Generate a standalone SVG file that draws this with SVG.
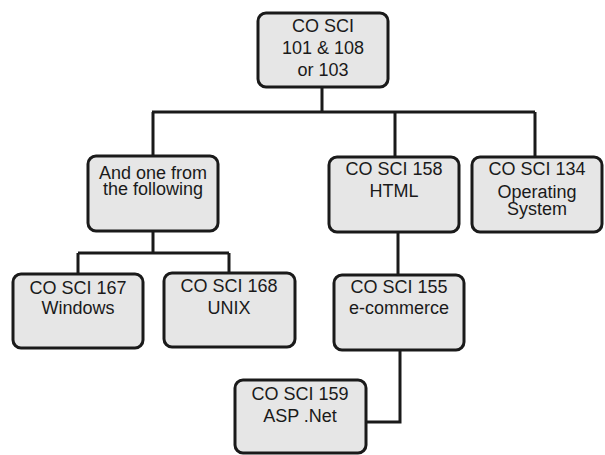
<svg xmlns="http://www.w3.org/2000/svg" width="605" height="455" viewBox="0 0 605 455">
<style>
.box{fill:#e6e6e6;stroke:#1a1a1a;stroke-width:3}
.t{font-family:"Liberation Sans",Arial,sans-serif;font-size:18px;fill:#1a1a1a;text-anchor:middle}
.c{fill:none;stroke:#1a1a1a;stroke-width:3}
</style>
<rect width="605" height="455" fill="#fff"/>
<g id="connectors">
<path class="c" d="M322 87V112M152 112H535M153 112V156M395 112V157M535 112V157"/>
<path class="c" d="M153 231V253M78 253H229M78 253V274M229 253V273"/>
<path class="c" d="M398 232V275"/>
<path class="c" d="M400 350V422H366"/>
</g>
<g id="n_root">
<rect class="box" x="258" y="13" width="130" height="74" rx="8"/>
<text class="t" x="323" y="32">CO SCI<tspan x="323" y="54">101 &amp; 108</tspan><tspan x="323" y="76">or 103</tspan></text>
</g>
<g id="n_andone">
<rect class="box" x="88" y="156" width="130" height="75" rx="8"/>
<text class="t" x="153" y="179">And one from<tspan x="153" y="195">the following</tspan></text>
</g>
<g id="n_158">
<rect class="box" x="329" y="157" width="130" height="75" rx="8"/>
<text class="t" x="394" y="175">CO SCI 158<tspan x="394" y="197">HTML</tspan></text>
</g>
<g id="n_134">
<rect class="box" x="472" y="157" width="130" height="75" rx="8"/>
<text class="t" x="537" y="175">CO SCI 134<tspan x="537" y="198">Operating</tspan><tspan x="537" y="215">System</tspan></text>
</g>
<g id="n_167">
<rect class="box" x="13" y="274" width="130" height="74" rx="8"/>
<text class="t" x="78" y="294">CO SCI 167<tspan x="78" y="314">Windows</tspan></text>
</g>
<g id="n_168">
<rect class="box" x="164" y="273" width="131" height="74" rx="8"/>
<text class="t" x="229" y="292">CO SCI 168<tspan x="229" y="314">UNIX</tspan></text>
</g>
<g id="n_155">
<rect class="box" x="334" y="275" width="130" height="75" rx="8"/>
<text class="t" x="399" y="293">CO SCI 155<tspan x="399" y="314">e-commerce</tspan></text>
</g>
<g id="n_159">
<rect class="box" x="235" y="380" width="131" height="73" rx="8"/>
<text class="t" x="300" y="400">CO SCI 159<tspan x="300" y="422">ASP .Net</tspan></text>
</g>
</svg>
